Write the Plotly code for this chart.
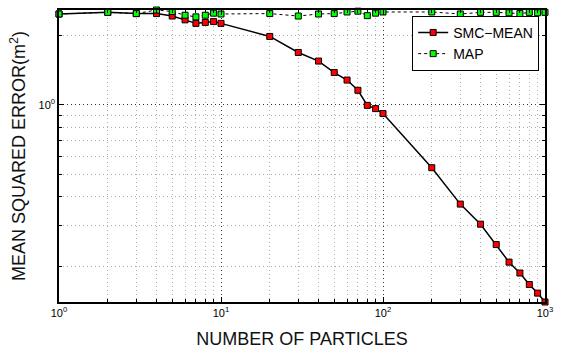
import plotly.graph_objects as go
import math

particles = [1, 2, 3, 4, 5, 6, 7, 8, 9, 10, 20, 30, 40, 50, 60, 70, 80, 90, 100,
             200, 300, 400, 500, 600, 700, 800, 900, 1000]
smc_mean = [2.47, 2.51, 2.48, 2.48, 2.42, 2.33, 2.25, 2.27, 2.29, 2.25, 1.975, 1.684,
            1.546, 1.379, 1.28, 1.156, 0.995, 0.963, 0.917, 0.535, 0.3725, 0.305,
            0.249, 0.209, 0.1876, 0.1673, 0.1536, 0.1406]
map_err = [2.47, 2.51, 2.48, 2.57, 2.53, 2.44, 2.40, 2.44, 2.49, 2.47, 2.48, 2.42,
           2.47, 2.48, 2.52, 2.54, 2.43, 2.49, 2.52, 2.52, 2.47, 2.51, 2.51, 2.50,
           2.48, 2.51, 2.50, 2.51]

x_ticks = [1, 10, 100, 1000]
x_ticklabels = ["10<sup>0</sup>", "10<sup>1</sup>", "10<sup>2</sup>", "10<sup>3</sup>"]
x_minor = [2, 3, 4, 5, 6, 7, 8, 9, 20, 30, 40, 50, 60, 70, 80, 90, 200, 300, 400, 500,
           600, 700, 800, 900]
y_ticks = [1]
y_ticklabels = ["10<sup>0</sup>"]
y_minor = [0.2, 0.3, 0.4, 0.5, 0.6, 0.7, 0.8, 0.9, 2]

FONT = "Liberation Sans, Arial, sans-serif"

fig = go.Figure()
fig.add_trace(go.Scatter(
    x=particles, y=smc_mean, name="SMC\u2212MEAN", mode="lines+markers",
    line=dict(color="black", width=1.5),
    marker=dict(symbol="square", size=6, color="#ff0000", line=dict(color="black", width=1)),
    cliponaxis=False,
))
fig.add_trace(go.Scatter(
    x=particles, y=map_err, name="MAP", mode="lines+markers",
    line=dict(color="black", width=1, dash="dot"),
    marker=dict(symbol="square", size=6, color="#00ff00", line=dict(color="black", width=1)),
    cliponaxis=False,
))

ymin = min(min(smc_mean), min(map_err))
ymax = max(max(smc_mean), max(map_err))

axis_common = dict(
    showline=True, linecolor="black", linewidth=1.5, mirror="allticks",
    ticks="inside", ticklen=5, tickwidth=1, tickcolor="black",
    showgrid=True, gridcolor="#333", griddash="1px,3px", gridwidth=1,
    zeroline=False,
    tickfont=dict(family=FONT, size=11, color="black"),
)
minor_common = dict(tickmode="array", ticks="inside", ticklen=3, tickcolor="black",
                    showgrid=True, gridcolor="#aaaaaa", griddash="1px,3px", gridwidth=1)

fig.update_xaxes(
    type="log", range=[math.log10(min(particles)), math.log10(max(particles))],
    tickmode="array", tickvals=x_ticks, ticktext=x_ticklabels,
    minor=dict(tickvals=x_minor, **minor_common),
    title=dict(text="NUMBER OF PARTICLES", font=dict(family=FONT, size=18, color="#111"),
               standoff=14),
    **axis_common,
)
fig.update_yaxes(
    type="log", range=[math.log10(ymin), math.log10(ymax)],
    tickmode="array", tickvals=y_ticks, ticktext=y_ticklabels,
    minor=dict(tickvals=y_minor, **minor_common),
    title=dict(text="MEAN SQUARED ERROR(m<sup>2</sup>)",
               font=dict(family=FONT, size=18, color="#111"), standoff=8),
    **axis_common,
)

fig.update_layout(
    width=561, height=354,
    margin=dict(l=59, r=8, t=9, b=52),
    paper_bgcolor="white", plot_bgcolor="white",
    showlegend=True,
    legend=dict(x=0.988, y=0.98, xanchor="right", yanchor="top",
                bgcolor="white", bordercolor="black", borderwidth=1,
                font=dict(family=FONT, size=14, color="black"),
                tracegroupgap=0, itemwidth=30),
)

fig.write_html("out.html")
